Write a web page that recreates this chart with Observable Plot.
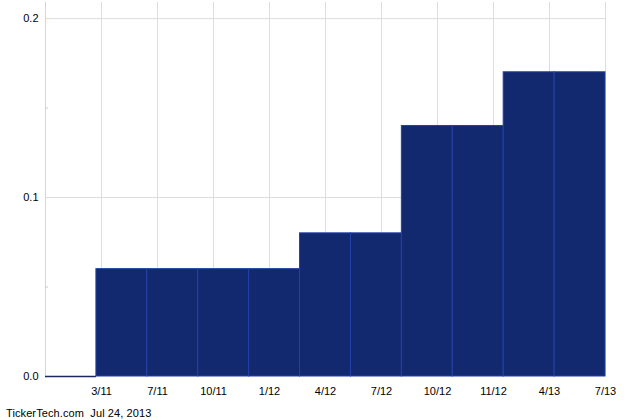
<!DOCTYPE html>
<html>
<head>
<meta charset="utf-8">
<script src="https://cdn.jsdelivr.net/npm/d3@7"></script>
<script src="https://cdn.jsdelivr.net/npm/@observablehq/plot@0.6"></script>
<style>
  body { margin: 0; background: #fff; font-family: "Liberation Sans", Arial, sans-serif; }
  #caption { font-size: 11px; line-height: 14px; color: #000; padding-left: 6px; margin-top: 6px; letter-spacing: 0.1px; }
</style>
</head>
<body>
<div id="chart"></div>
<div id="caption">TickerTech.com&nbsp; Jul 24, 2013</div>
<script>
const tickLabels = ["3/11","7/11","10/11","1/12","4/12","7/12","10/12","11/12","4/13","7/13"];
const dividends = [0, 0.06, 0.06, 0.06, 0.06, 0.08, 0.08, 0.14, 0.14, 0.17, 0.17];
const yMajor = [0, 0.1, 0.2];
const yMinor = [0.05, 0.15];

const bars = dividends.map((v, i) => ({i, v}));
const n = dividends.length;
const tickPos = tickLabels.map((_, k) => (k + 1) * n / tickLabels.length);

const chart = Plot.plot({
  width: 640,
  height: 400,
  marginLeft: 45,
  marginRight: 35,
  marginTop: 2,
  marginBottom: 24,
  style: {fontFamily: "'Liberation Sans', Arial, sans-serif", fontSize: "11px", color: "#000", background: "#fff"},
  x: {domain: [0, n]},
  y: {domain: [0, 0.209]},
  marks: [
    Plot.gridX(tickPos, {stroke: "#dddddd", strokeOpacity: 1}),
    Plot.gridY([0.1, 0.2], {stroke: "#dddddd", strokeOpacity: 1}),
    Plot.ruleX([0], {stroke: "#d6d6d6"}),
    Plot.axisY(yMinor, {tickSize: -3, stroke: "#cccccc", text: null, label: null}),
    Plot.axisY(yMajor, {tickSize: 0, tickPadding: 7, tickFormat: d => d.toFixed(1), label: null, fill: "#000"}),
    Plot.axisX(tickPos, {tickSize: 0, tickPadding: 11, tickFormat: (d, k) => tickLabels[k], label: null, fill: "#000"}),
    Plot.rectY(bars.filter(d => d.v > 0), {x1: d => d.i, x2: d => d.i + 1, y: "v", fill: "#13296f", stroke: "#2240a8", strokeWidth: 1, inset: 0}),
    Plot.ruleY(bars.filter(d => d.v === 0), {x1: d => d.i, x2: d => d.i + 1, y: "v", stroke: "#1a2a60", strokeWidth: 1.5})
  ]
});
document.getElementById("chart").appendChild(chart);
</script>
</body>
</html>
